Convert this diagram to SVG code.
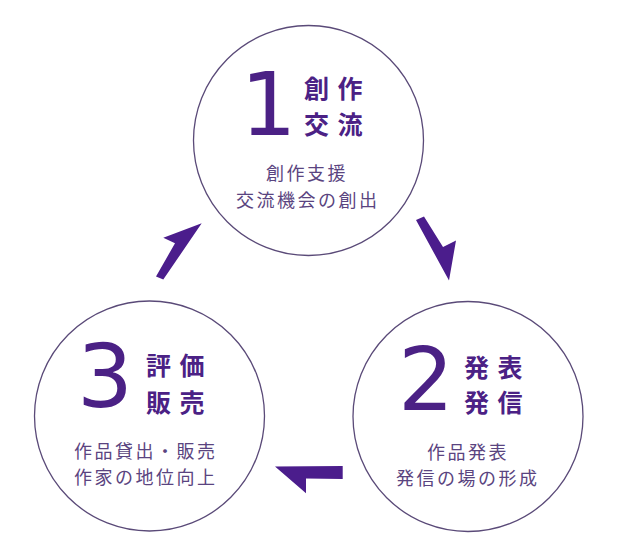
<svg xmlns="http://www.w3.org/2000/svg" width="617" height="556" viewBox="0 0 617 556">
<style>
.ring{fill:#fff;stroke:#5a4a78;stroke-width:1.3}
.num{font-family:"DejaVu Sans",sans-serif;font-size:88px;fill:#4b2185;text-anchor:middle}
.head{font-family:"Noto Sans CJK JP",sans-serif;font-weight:bold;font-size:25px;fill:#4b2185;letter-spacing:8.5px}
.sub{font-family:"Noto Sans CJK JP",sans-serif;font-size:18px;fill:#5a4480;letter-spacing:2.5px}
.arrow{fill:#4b1d8c}
</style>
<rect width="617" height="556" fill="#fff"/>
<g id="node1">
<circle class="ring" cx="308.5" cy="140.5" r="115"/>
<text class="num" x="268.5" y="135">1</text>
<text class="head" x="304" y="97.5">創作</text>
<text class="head" x="304" y="134">交流</text>
<text class="sub" x="266" y="180">創作支援</text>
<text class="sub" x="236" y="207">交流機会の創出</text>
</g>
<g id="node2">
<circle class="ring" cx="468" cy="416.5" r="115"/>
<text class="num" x="426" y="410">2</text>
<text class="head" x="464" y="377">発表</text>
<text class="head" x="464" y="412">発信</text>
<text class="sub" x="427" y="459">作品発表</text>
<text class="sub" x="396" y="485">発信の場の形成</text>
</g>
<g id="node3">
<circle class="ring" cx="149.5" cy="416" r="115"/>
<text class="num" x="105" y="407">3</text>
<text class="head" x="146" y="375">評価</text>
<text class="head" x="146" y="412">販売</text>
<text class="sub" x="74" y="458">作品貸出・販売</text>
<text class="sub" x="74" y="484">作家の地位向上</text>
</g>
<g id="connectors">
<polygon class="arrow" points="416,220 424,216.5 443,247 456,240.5 449,280.5"/>
<polygon class="arrow" points="275,466.5 342.7,466 342.7,479 306,478.5 306,493.3"/>
<polygon class="arrow" points="156,276.5 163.3,279.5 201.7,223.3 163.3,237.7 175,243.3"/>
</g>
</svg>
